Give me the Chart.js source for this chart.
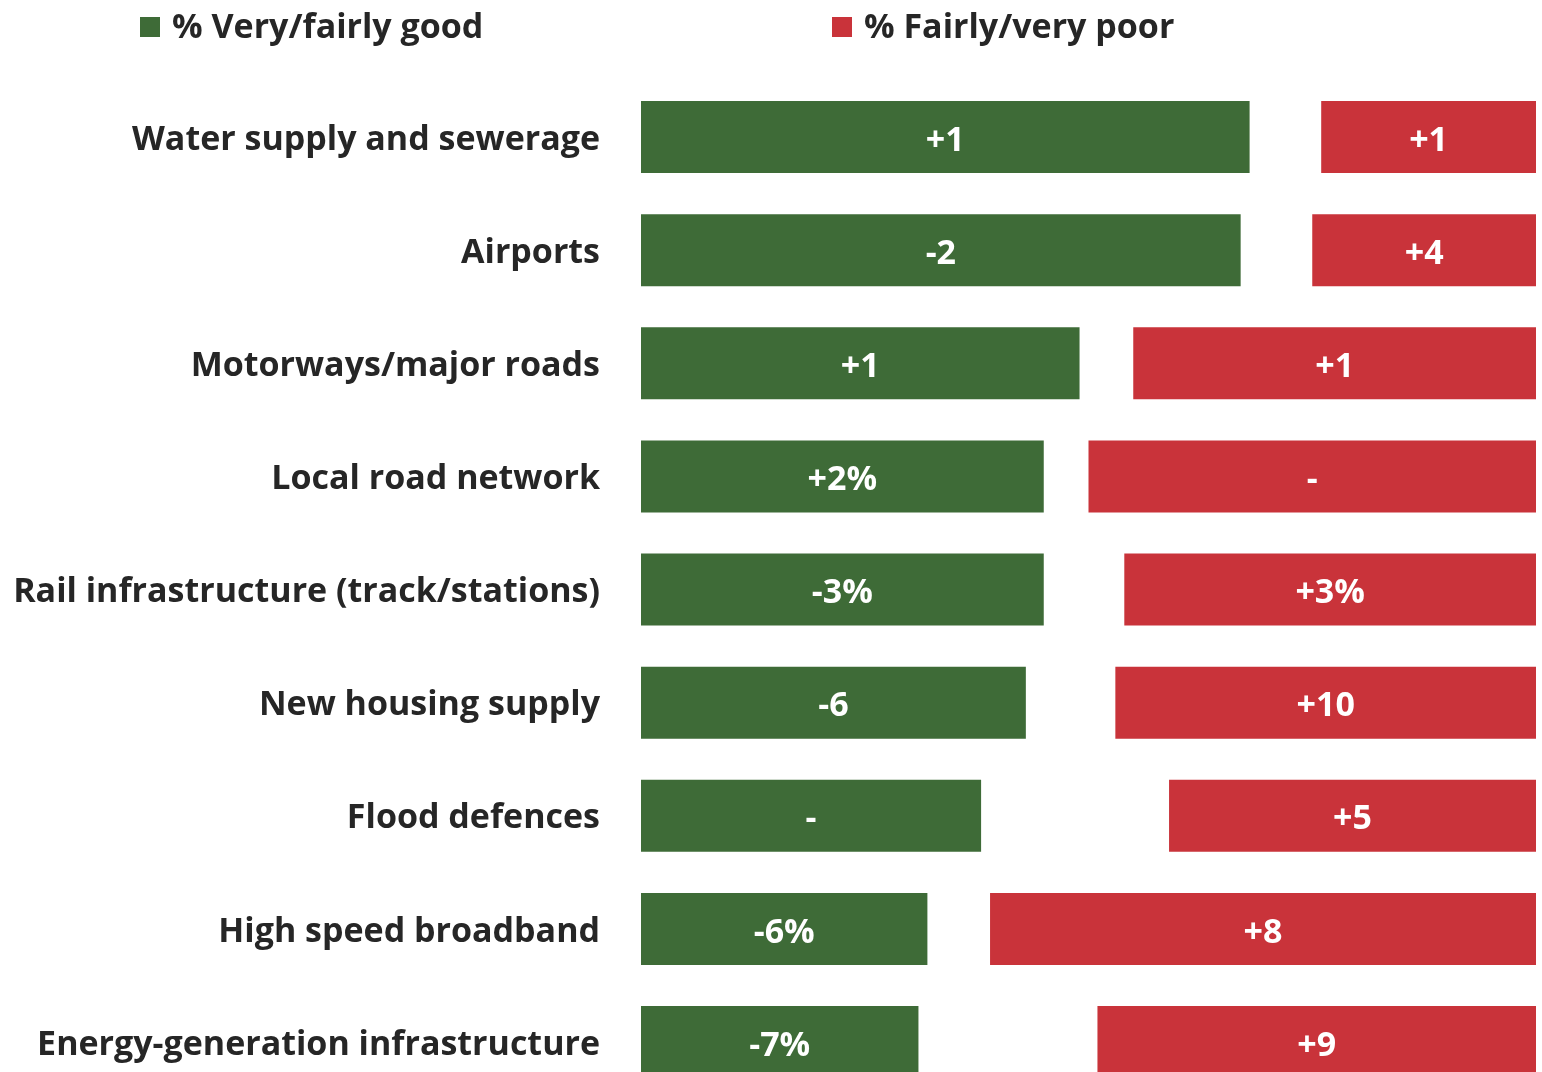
<!DOCTYPE html>
<html>
<head>
<meta charset="utf-8">
<script src="https://cdn.jsdelivr.net/npm/chart.js@4.4.1/dist/chart.umd.min.js"></script>
<style>
  html, body { margin: 0; padding: 0; background: #ffffff; overflow: hidden; }
  #wrap { position: relative; width: 1542px; height: 1072px; overflow: hidden; }
  #c { position: absolute; left: 0; top: 0; }
  .leg { position: absolute; top: 2px; font-family: "Open Sans", sans-serif; font-weight: 700;
         font-size: 34px; color: #262626; white-space: nowrap; line-height: 46px; }
  .leg span.box { display: inline-block; width: 20px; height: 20px; margin-right: 12px; vertical-align: 1px; }
</style>
</head>
<body>
<div id="wrap">
  <canvas id="c" width="1542" height="1160"></canvas>
  <div id="leg0" class="leg" style="left:140px"></div>
  <div id="leg1" class="leg" style="left:832px"></div>
</div>
<script>
const categories = [
  "Water supply and sewerage",
  "Airports",
  "Motorways/major roads",
  "Local road network",
  "Rail infrastructure (track/stations)",
  "New housing supply",
  "Flood defences",
  "High speed broadband",
  "Energy-generation infrastructure"
];
const seriesNames = ["% Very/fairly good", "% Fairly/very poor"];
const goodValues = [68, 67, 49, 45, 45, 43, 38, 32, 31];
const poorValues = [24, 25, 45, 50, 46, 47, 41, 61, 49];
const goodChangeLabels = ["+1", "-2", "+1", "+2%", "-3%", "-6", "-", "-6%", "-7%"];
const poorChangeLabels = ["+1", "+4", "+1", "-", "+3%", "+10", "+5", "+8", "+9"];
const axisMax = 100;

const GREEN = "#3E6B37";
const RED = "#C9333A";
const FONT = '"Open Sans", sans-serif';

// HTML legend
[GREEN, RED].forEach((col, i) => {
  const el = document.getElementById("leg" + i);
  const b = document.createElement("span");
  b.className = "box"; b.style.background = col;
  el.appendChild(b);
  el.appendChild(document.createTextNode(seriesNames[i]));
});

const changeLabelPlugin = {
  id: "changeLabels",
  afterDatasetsDraw(chart) {
    const ctx = chart.ctx;
    const lists = [goodChangeLabels, poorChangeLabels];
    ctx.save();
    ctx.fillStyle = "#ffffff";
    ctx.font = "700 34px " + FONT;
    ctx.textAlign = "center";
    ctx.textBaseline = "middle";
    chart.data.datasets.forEach((ds, di) => {
      const meta = chart.getDatasetMeta(di);
      meta.data.forEach((bar, i) => {
        const p = bar.getProps(["x", "y", "base"], true);
        const cx = (p.x + p.base) / 2;
        ctx.fillText(lists[di][i], cx, p.y + 4);
      });
    });
    ctx.restore();
  }
};

new Chart(document.getElementById("c"), {
  type: "bar",
  data: {
    labels: categories,
    datasets: [
      {
        label: seriesNames[0],
        data: goodValues,
        backgroundColor: GREEN,
        borderWidth: 0
      },
      {
        label: seriesNames[1],
        data: poorValues.map(v => [axisMax - v, axisMax]),
        backgroundColor: RED,
        borderWidth: 0
      }
    ]
  },
  options: {
    indexAxis: "y",
    responsive: false,
    maintainAspectRatio: false,
    animation: false,
    devicePixelRatio: 1,
    layout: { padding: { top: 80.5, right: 6, bottom: 2.5, left: 0 } },
    datasets: { bar: { grouped: false, categoryPercentage: 1, barPercentage: 0.637 } },
    plugins: {
      legend: { display: false },
      tooltip: { enabled: false }
    },
    scales: {
      x: {
        display: false,
        min: 0,
        max: axisMax
      },
      y: {
        grid: { display: false, drawTicks: false },
        border: { display: false },
        ticks: {
          color: "#262626",
          padding: 41,
          labelOffset: 3,
          font: { family: FONT, size: 34, weight: "700" }
        },
        afterFit(scale) { scale.width = 641; }
      }
    }
  },
  plugins: [changeLabelPlugin]
});
</script>
</body>
</html>
